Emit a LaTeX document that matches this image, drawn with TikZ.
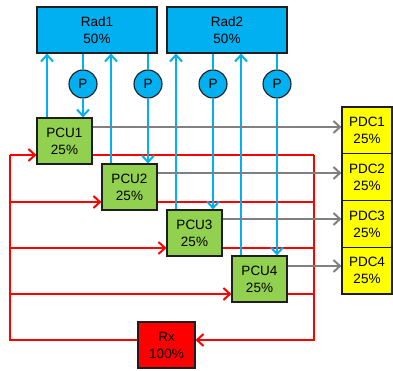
\documentclass[tikz,border=0pt]{standalone}
\usepackage{fontspec}
\setmainfont{Liberation Sans}
\usetikzlibrary{arrows.meta,calc,backgrounds}
\definecolor{radblue}{RGB}{0,176,240}
\definecolor{pcugreen}{RGB}{146,208,80}
\definecolor{pdcyellow}{RGB}{255,255,0}
\definecolor{rxred}{RGB}{255,0,0}
\definecolor{greyline}{RGB}{128,128,128}
\definecolor{edge}{RGB}{30,30,30}
\tikzset{
  box/.style={draw=edge, line width=1.1pt, inner sep=0pt, align=center,
    font=\fontsize{13.5}{17}\selectfont},
  radbox/.style={box, fill=radblue, minimum width=120pt, minimum height=46pt},
  pcubox/.style={box, fill=pcugreen, minimum width=55pt, minimum height=46pt},
  pdcbox/.style={box, fill=pdcyellow, minimum width=50pt, minimum height=46.75pt},
  rxbox/.style={box, fill=rxred, minimum width=57pt, minimum height=46pt},
  pump/.style={circle, draw=edge, line width=1.1pt, fill=radblue, minimum size=28pt, inner sep=0pt,
    font=\fontsize{13.5}{16}\selectfont},
  tip/.style={-{Straight Barb[length=6.5pt,width=12pt]}},
  blueline/.style={draw=radblue, line width=2pt},
  redline/.style={draw=rxred, line width=2pt},
  greyarrow/.style={draw=greyline, line width=2pt, tip},
}
\begin{document}
\begin{tikzpicture}[x=1pt,y=-1pt]
\useasboundingbox (0,0) rectangle (393,371);
% boxes
\node[radbox] (rad1) at (97,30) {Rad1\\50\%};
\node[radbox] (rad2) at (227,30) {Rad2\\50\%};
\node[pcubox] (pcu1) at (64.5,141) {PCU1\\25\%};
\node[pcubox] (pcu2) at (129.5,187) {PCU2\\25\%};
\node[pcubox] (pcu3) at (194.5,233) {PCU3\\25\%};
\node[pcubox] (pcu4) at (259.5,279) {PCU4\\25\%};
\node[pdcbox] (pdc1) at (367,130.4) {PDC1\\25\%};
\node[pdcbox] (pdc2) at (367,177.1) {PDC2\\25\%};
\node[pdcbox] (pdc3) at (367,223.9) {PDC3\\25\%};
\node[pdcbox] (pdc4) at (367,270.6) {PDC4\\25\%};
\node[rxbox] (rx) at (166.5,345) {Rx\\100\%};
\node[pump] (p1) at (83,84) {P};
\node[pump] (p2) at (148,84) {P};
\node[pump] (p3) at (213,84) {P};
\node[pump] (p4) at (277,84) {P};
% junction coordinates
\coordinate (lx) at (10,0);
\coordinate (rxr) at (314,0);
\begin{scope}[on background layer]
% red loop
\begin{scope}[redline]
\draw (rx.west |- 0,340) -- (lx |- 0,340) -- (lx |- 0,155);
\draw[tip] (lx |- 0,155) -- (pcu1.west |- 0,155);
\draw[tip] (lx |- 0,202) -- (pcu2.west |- 0,202);
\draw[tip] (lx |- 0,248) -- (pcu3.west |- 0,248);
\draw[tip] (lx |- 0,294) -- (pcu4.west |- 0,294);
\draw (pcu1.east |- 0,155) -- (rxr |- 0,155);
\draw (pcu2.east |- 0,202) -- (rxr |- 0,202);
\draw (pcu3.east |- 0,248) -- (rxr |- 0,248);
\draw (pcu4.east |- 0,294) -- (rxr |- 0,294);
\draw[tip] (rxr |- 0,155) -- (rxr |- 0,340) -- (rx.east |- 0,340);
\end{scope}
% blue coolant lines
\begin{scope}[blueline]
\draw[tip] (pcu1.north -| 47,0) -- (rad1.south -| 47,0);
\draw (rad1.south -| p1) -- (p1);
\draw[tip] (p1.south) -- (pcu1.north -| p1);
\draw[tip] (pcu2.north -| 111,0) -- (rad1.south -| 111,0);
\draw (rad1.south -| p2) -- (p2);
\draw[tip] (p2.south) -- (pcu2.north -| p2);
\draw[tip] (pcu3.north -| 176,0) -- (rad2.south -| 176,0);
\draw (rad2.south -| p3) -- (p3);
\draw[tip] (p3.south) -- (pcu3.north -| p3);
\draw[tip] (pcu4.north -| 241,0) -- (rad2.south -| 241,0);
\draw (rad2.south -| p4) -- (p4);
\draw[tip] (p4.south) -- (pcu4.north -| p4);
\end{scope}
% grey power lines
\draw[greyarrow] (pcu1.east |- 0,127) -- (pdc1.west |- 0,127);
\draw[greyarrow] (pcu2.east |- 0,173) -- (pdc2.west |- 0,173);
\draw[greyarrow] (pcu3.east |- 0,219) -- (pdc3.west |- 0,219);
\draw[greyarrow] (pcu4.east |- 0,266) -- (pdc4.west |- 0,266);
\end{scope}
\end{tikzpicture}
\end{document}
